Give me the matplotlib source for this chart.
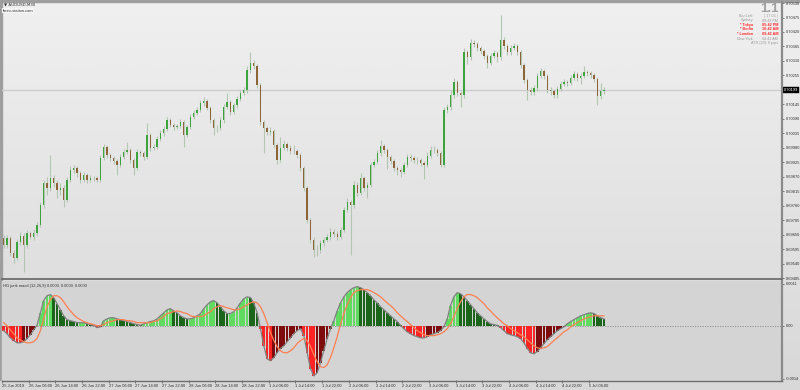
import numpy as np
import matplotlib
matplotlib.use("Agg")
import matplotlib.pyplot as plt
from matplotlib.colors import LinearSegmentedColormap
from matplotlib.patches import Rectangle
from matplotlib.lines import Line2D

# ---------------- data (hourly candles) ----------------
opens = [0.69637,0.69610,0.69637,0.69580,0.69561,0.69622,0.69645,0.69610,0.69656,0.69641,
         0.69656,0.69686,0.69762,0.69846,0.69827,0.69865,0.69846,0.69819,0.69827,0.69781,
         0.69857,0.69895,0.69903,0.69884,0.69857,0.69876,0.69857,0.69865,0.69865,0.69857,
         0.69941,0.69983,0.69952,0.69941,0.69930,0.69914,0.69945,0.69964,0.69971,0.69933,
         0.69903,0.69964,0.69960,0.69945,0.70028,0.69979,0.69983,0.70013,0.70036,0.70051,
         0.70085,0.70066,0.70059,0.70063,0.70078,0.70028,0.70059,0.70097,0.70112,0.70123,
         0.70150,0.70158,0.70131,0.70085,0.70055,0.70055,0.70085,0.70135,0.70154,0.70116,
         0.70142,0.70165,0.70188,0.70199,0.70275,0.70302,0.70291,0.70218,0.70078,0.70055,
         0.70040,0.70044,0.69990,0.69933,0.69979,0.69994,0.69979,0.69968,0.69968,0.69952,
         0.69903,0.69827,0.69705,0.69629,0.69591,0.69591,0.69618,0.69629,0.69641,0.69660,
         0.69652,0.69641,0.69667,0.69743,0.69774,0.69762,0.69838,0.69808,0.69865,0.69827,
         0.69838,0.69914,0.69926,0.69960,0.69987,0.69971,0.69945,0.69930,0.69903,0.69895,
         0.69888,0.69914,0.69945,0.69941,0.69933,0.69933,0.69922,0.69914,0.69949,0.69971,
         0.69971,0.69960,0.69914,0.70123,0.70135,0.70180,0.70230,0.70188,0.70180,0.70344,
         0.70325,0.70378,0.70374,0.70359,0.70348,0.70329,0.70302,0.70329,0.70340,0.70325,
         0.70389,0.70367,0.70344,0.70359,0.70367,0.70344,0.70294,0.70237,0.70199,0.70192,
         0.70206,0.70253,0.70272,0.70253,0.70199,0.70196,0.70180,0.70203,0.70222,0.70230,
         0.70226,0.70245,0.70260,0.70245,0.70253,0.70268,0.70264,0.70256,0.70241,0.70177,
         0.70196]
closes = [0.69610,0.69637,0.69580,0.69561,0.69622,0.69645,0.69610,0.69656,0.69641,0.69656,
          0.69686,0.69762,0.69846,0.69827,0.69865,0.69846,0.69819,0.69827,0.69781,0.69857,
          0.69895,0.69903,0.69884,0.69857,0.69876,0.69857,0.69865,0.69865,0.69857,0.69941,
          0.69983,0.69952,0.69941,0.69930,0.69914,0.69945,0.69964,0.69971,0.69933,0.69903,
          0.69964,0.69960,0.69945,0.70028,0.69979,0.69983,0.70013,0.70036,0.70051,0.70085,
          0.70066,0.70059,0.70063,0.70078,0.70028,0.70059,0.70097,0.70112,0.70123,0.70150,
          0.70158,0.70131,0.70085,0.70055,0.70055,0.70085,0.70135,0.70154,0.70116,0.70142,
          0.70165,0.70188,0.70199,0.70275,0.70302,0.70291,0.70218,0.70078,0.70055,0.70040,
          0.70044,0.69990,0.69933,0.69979,0.69994,0.69979,0.69968,0.69968,0.69952,0.69903,
          0.69827,0.69705,0.69629,0.69591,0.69591,0.69618,0.69629,0.69641,0.69660,0.69652,
          0.69641,0.69667,0.69743,0.69774,0.69762,0.69838,0.69808,0.69865,0.69827,0.69838,
          0.69914,0.69926,0.69960,0.69987,0.69971,0.69945,0.69930,0.69903,0.69895,0.69888,
          0.69914,0.69945,0.69941,0.69933,0.69933,0.69922,0.69914,0.69949,0.69971,0.69971,
          0.69960,0.69914,0.70123,0.70135,0.70180,0.70230,0.70188,0.70180,0.70344,0.70325,
          0.70378,0.70374,0.70359,0.70348,0.70329,0.70302,0.70329,0.70340,0.70325,0.70389,
          0.70367,0.70344,0.70359,0.70367,0.70344,0.70294,0.70237,0.70199,0.70192,0.70206,
          0.70253,0.70272,0.70253,0.70199,0.70196,0.70180,0.70203,0.70222,0.70230,0.70226,
          0.70245,0.70260,0.70245,0.70253,0.70268,0.70264,0.70256,0.70241,0.70177,0.70196,
          0.70199]
highs = [0.69650,0.69647,0.69645,0.69590,0.69632,0.69660,0.69655,0.69668,0.69665,0.69670,
         0.69698,0.69772,0.69858,0.69870,0.69952,0.69875,0.69856,0.69845,0.69837,0.69867,
         0.69910,0.69915,0.69912,0.69892,0.69888,0.69884,0.69878,0.69874,0.69873,0.69952,
         0.69996,0.69992,0.69960,0.69950,0.69938,0.69955,0.69975,0.70000,0.69980,0.69940,
         0.69975,0.69972,0.69968,0.70074,0.70036,0.69995,0.70024,0.70046,0.70062,0.70098,
         0.70094,0.70075,0.70072,0.70090,0.70086,0.70068,0.70108,0.70124,0.70135,0.70162,
         0.70172,0.70166,0.70140,0.70092,0.70066,0.70096,0.70148,0.70188,0.70162,0.70152,
         0.70176,0.70200,0.70212,0.70290,0.70344,0.70315,0.70300,0.70226,0.70086,0.70064,
         0.70058,0.70052,0.69998,0.70020,0.70010,0.70002,0.69990,0.69990,0.69976,0.69960,
         0.69912,0.69835,0.69712,0.69640,0.69610,0.69630,0.69642,0.69654,0.69675,0.69670,
         0.69662,0.69680,0.69755,0.69788,0.69782,0.69852,0.69848,0.69885,0.69872,0.69848,
         0.69925,0.69938,0.69972,0.70010,0.69995,0.69978,0.69952,0.69938,0.69912,0.69902,
         0.69925,0.69958,0.69955,0.69950,0.69945,0.69940,0.69930,0.69962,0.69985,0.69985,
         0.69978,0.69968,0.70135,0.70145,0.70198,0.70245,0.70238,0.70196,0.70360,0.70352,
         0.70392,0.70390,0.70382,0.70366,0.70356,0.70338,0.70340,0.70352,0.70348,0.70484,
         0.70400,0.70375,0.70370,0.70380,0.70375,0.70352,0.70302,0.70245,0.70210,0.70218,
         0.70265,0.70284,0.70280,0.70260,0.70210,0.70204,0.70214,0.70232,0.70240,0.70238,
         0.70256,0.70272,0.70268,0.70264,0.70290,0.70276,0.70272,0.70264,0.70248,0.70225,
         0.70212]
lows = [0.69600,0.69600,0.69570,0.69542,0.69553,0.69612,0.69508,0.69600,0.69632,0.69630,
        0.69646,0.69678,0.69752,0.69800,0.69815,0.69830,0.69790,0.69800,0.69755,0.69772,
        0.69848,0.69885,0.69870,0.69845,0.69848,0.69846,0.69848,0.69855,0.69848,0.69850,
        0.69932,0.69940,0.69930,0.69920,0.69876,0.69905,0.69936,0.69955,0.69922,0.69876,
        0.69895,0.69950,0.69935,0.69938,0.69968,0.69970,0.69975,0.70005,0.70026,0.70042,
        0.70058,0.70048,0.70050,0.70055,0.69982,0.70020,0.70050,0.70088,0.70104,0.70115,
        0.70140,0.70122,0.70075,0.70028,0.70040,0.70046,0.70076,0.70126,0.70105,0.70108,
        0.70133,0.70156,0.70180,0.70190,0.70265,0.70280,0.70208,0.70066,0.69960,0.70030,
        0.70030,0.69980,0.69920,0.69925,0.69970,0.69968,0.69958,0.69958,0.69940,0.69892,
        0.69815,0.69695,0.69618,0.69565,0.69570,0.69580,0.69608,0.69620,0.69630,0.69640,
        0.69630,0.69632,0.69658,0.69734,0.69572,0.69752,0.69796,0.69800,0.69815,0.69790,
        0.69830,0.69905,0.69918,0.69950,0.69960,0.69900,0.69918,0.69892,0.69875,0.69870,
        0.69880,0.69905,0.69930,0.69922,0.69920,0.69910,0.69860,0.69905,0.69940,0.69960,
        0.69950,0.69905,0.69905,0.70112,0.70125,0.70170,0.70176,0.70135,0.70170,0.70300,
        0.70315,0.70362,0.70348,0.70338,0.70318,0.70285,0.70294,0.70320,0.70305,0.70315,
        0.70355,0.70332,0.70334,0.70350,0.70334,0.70284,0.70226,0.70161,0.70180,0.70180,
        0.70196,0.70244,0.70240,0.70188,0.70182,0.70168,0.70170,0.70194,0.70214,0.70216,
        0.70218,0.70236,0.70234,0.70222,0.70244,0.70254,0.70246,0.70230,0.70142,0.70165,
        0.70186]

macd_hist = [-0.00013,-0.00021,-0.00032,-0.00039,-0.00045,-0.00045,-0.00042,-0.00034,-0.00024,-0.00011,
             0.00001,0.00034,0.00066,0.00079,0.00082,0.00074,0.00058,0.00042,0.00026,0.00016,
             0.00013,0.00011,0.00008,0.00008,0.00008,0.00005,0.00003,0.00001,-0.00005,-0.00003,
             0.00013,0.00018,0.00021,0.00021,0.00018,0.00016,0.00013,0.00011,0.00008,0.00005,
             0.00003,0.00001,0.00005,0.00008,0.00011,0.00013,0.00018,0.00026,0.00034,0.00042,
             0.00045,0.00039,0.00034,0.00026,0.00021,0.00018,0.00018,0.00021,0.00026,0.00032,
             0.00045,0.00055,0.00063,0.00066,0.00060,0.00050,0.00039,0.00032,0.00032,0.00037,
             0.00047,0.00060,0.00071,0.00076,0.00074,0.00060,0.00034,-0.00008,-0.00053,-0.00087,
             -0.00092,-0.00084,-0.00071,-0.00060,-0.00053,-0.00042,-0.00032,-0.00021,-0.00013,-0.00008,
             -0.00026,-0.00071,-0.00113,-0.00132,-0.00124,-0.00097,-0.00066,-0.00034,-0.00008,0.00013,
             0.00039,0.00060,0.00076,0.00087,0.00095,0.00100,0.00103,0.00100,0.00095,0.00087,
             0.00079,0.00068,0.00060,0.00050,0.00042,0.00034,0.00026,0.00018,0.00011,0.00001,
             -0.00008,-0.00016,-0.00021,-0.00026,-0.00029,-0.00032,-0.00032,-0.00029,-0.00024,-0.00021,
             -0.00018,-0.00013,-0.00003,0.00018,0.00053,0.00076,0.00087,0.00084,0.00076,0.00066,
             0.00055,0.00045,0.00034,0.00026,0.00018,0.00011,0.00005,0.00003,0.00001,-0.00005,
             -0.00013,-0.00021,-0.00024,-0.00026,-0.00029,-0.00034,-0.00045,-0.00060,-0.00071,-0.00074,
             -0.00068,-0.00058,-0.00047,-0.00037,-0.00029,-0.00021,-0.00013,-0.00008,-0.00003,0.00005,
             0.00011,0.00016,0.00021,0.00026,0.00029,0.00032,0.00034,0.00032,0.00026,0.00021,
             0.00018]
macd_signal = [0.00008,0.00000,-0.00011,-0.00021,-0.00032,-0.00037,-0.00042,-0.00045,-0.00045,-0.00042,
               -0.00034,-0.00013,0.00018,0.00050,0.00068,0.00079,0.00079,0.00074,0.00063,0.00050,
               0.00039,0.00029,0.00021,0.00016,0.00011,0.00008,0.00005,0.00003,0.00000,0.00000,
               0.00003,0.00008,0.00011,0.00013,0.00016,0.00016,0.00016,0.00013,0.00013,0.00011,
               0.00008,0.00008,0.00008,0.00008,0.00008,0.00011,0.00013,0.00018,0.00024,0.00032,
               0.00034,0.00037,0.00039,0.00037,0.00034,0.00032,0.00026,0.00024,0.00024,0.00024,
               0.00026,0.00032,0.00037,0.00045,0.00050,0.00053,0.00050,0.00047,0.00045,0.00042,
               0.00042,0.00045,0.00050,0.00055,0.00060,0.00063,0.00060,0.00050,0.00032,0.00008,
               -0.00018,-0.00039,-0.00055,-0.00066,-0.00071,-0.00071,-0.00066,-0.00058,-0.00047,-0.00039,
               -0.00034,-0.00039,-0.00055,-0.00076,-0.00095,-0.00108,-0.00110,-0.00103,-0.00084,-0.00058,
               -0.00029,0.00003,0.00032,0.00055,0.00074,0.00087,0.00092,0.00095,0.00095,0.00095,
               0.00092,0.00087,0.00082,0.00076,0.00068,0.00060,0.00053,0.00045,0.00034,0.00026,
               0.00018,0.00011,0.00003,-0.00005,-0.00013,-0.00018,-0.00024,-0.00026,-0.00026,-0.00026,
               -0.00024,-0.00021,-0.00016,-0.00008,0.00005,0.00024,0.00045,0.00063,0.00076,0.00082,
               0.00082,0.00079,0.00074,0.00066,0.00058,0.00047,0.00039,0.00029,0.00021,0.00013,
               0.00005,0.00000,-0.00008,-0.00013,-0.00018,-0.00024,-0.00029,-0.00037,-0.00045,-0.00053,
               -0.00058,-0.00060,-0.00058,-0.00055,-0.00047,-0.00039,-0.00032,-0.00024,-0.00016,-0.00011,
               -0.00003,0.00003,0.00008,0.00013,0.00018,0.00021,0.00024,0.00026,0.00026,0.00026,
               0.00026]

time_labels = ["25 Jun 2019", "26 Jun 06:00", "26 Jun 14:00", "26 Jun 22:00", "27 Jun 06:00",
               "27 Jun 14:00", "27 Jun 22:00", "28 Jun 06:00", "28 Jun 14:00", "28 Jun 22:00",
               "1 Jul 06:00", "1 Jul 14:00", "1 Jul 22:00", "2 Jul 06:00", "2 Jul 14:00",
               "2 Jul 22:00", "3 Jul 06:00", "3 Jul 14:00", "3 Jul 22:00", "4 Jul 06:00",
               "4 Jul 14:00", "4 Jul 22:00", "5 Jul 06:00"]
bars_per_label = 8
price_ticks = [0.69485, 0.69540, 0.69595, 0.69650, 0.69705, 0.69760, 0.69815, 0.69870,
               0.69925, 0.69980, 0.70035, 0.70090, 0.70145, 0.70255, 0.70310, 0.70365,
               0.70420, 0.70475, 0.70530]
current_price = 0.70199
ind_ticks = [0.0011, 0.0, -0.0014]
ind_tick_labels = ["0.0011", "0.00", "-0.0014"]
info_left = ["Bar Left:", "Sydney", "* Tokyo", "* Berlin", "* London", "New York", ""]
info_right = ["( 17:05 )", "08:42 PM", "05:42 PM", "10:42 AM", "09:42 AM", "04:42 AM", "ATR (20): 8 pips"]
info_red = [False, False, True, True, True, False, False]

# ---------------- figure ----------------
W, H = 800, 390
FS = 2.9
FONT = "Liberation Sans"
fig = plt.figure(figsize=(8, 3.9), dpi=100)

def fx(px):
    return px / W

def fy(py):
    return 1 - py / H

# background
bg = fig.add_axes([0, 0, 1, 1], zorder=-10)
bg.set_axis_off()
grad = np.linspace(0, 1, 256).reshape(-1, 1)
cmap = LinearSegmentedColormap.from_list("g", ["#f0f0f0", "#d8d8d8"])
bg.imshow(grad, aspect="auto", cmap=cmap, extent=[0, 1, 0, 1], transform=bg.transAxes)
bg.set_xlim(0, 1); bg.set_ylim(0, 1)
bg.add_patch(Rectangle((0, fy(2)), 1, 2 / H, color="#9e9e9e", transform=bg.transAxes))
bg.add_patch(Rectangle((0, 0), 2 / W, 1, color="#9e9e9e", transform=bg.transAxes))
bg.add_patch(Rectangle((fx(2), fy(381)), 779 / W, 100 / H, color="#d4d4d4", transform=bg.transAxes))
bg.add_patch(Rectangle((0, 0), 1, 9 / H, color="#d8d8d8", transform=bg.transAxes))

n = len(closes)
x = np.arange(n)
px_per_bar = 3.335
xlim = (-0.5, -0.5 + 779 / px_per_bar)

o = np.array(opens); c = np.array(closes)
hi = np.array(highs); lo = np.array(lows)

# main price panel
ax = fig.add_axes([fx(2), fy(278), 779 / W, 276 / H])
ax.set_facecolor("none")
ax.set_xlim(*xlim)
ax.set_ylim(0.69485, 0.70534)
ax.axhline(current_price, color="#cdcdcd", lw=1.0, zorder=1)
ax.vlines(x, lo, hi, color="#b2c6b2", lw=0.8, zorder=2)
bull = c >= o
body_col = np.where(bull, "#3da33d", "#8d6436")
ax.bar(x, np.maximum(np.abs(c - o), 0.000015), bottom=np.minimum(o, c), width=0.4,
       color=body_col, linewidth=0, zorder=3)
for s in ["left", "top", "bottom", "right"]:
    ax.spines[s].set_visible(False)
ax.set_xticks([])
ax.yaxis.tick_right()
ax.set_yticks(price_ticks)
ax.set_yticklabels([f"{v:.5f}" for v in price_ticks], fontsize=FS, family=FONT, color="#303030")
ax.tick_params(axis="y", length=2, width=0.5, pad=1.2, colors="#505050", labelcolor="#303030")
ax.text(1.0 + 3 / 779, current_price, f"{current_price:.5f}", transform=ax.get_yaxis_transform(),
        fontsize=FS, family=FONT, color="white", va="center", ha="left", clip_on=False,
        bbox=dict(boxstyle="square,pad=0.25", fc="black", ec="black", lw=0.3), zorder=10)

# indicator panel
axi = fig.add_axes([fx(2), fy(380), 779 / W, 99 / H])
axi.set_facecolor("#d4d4d4")
axi.set_xlim(*xlim)
axi.set_ylim(-0.001428, 0.001176)
hv = np.array(macd_hist)
cols = []
for i, v in enumerate(hv):
    prev = hv[i - 1] if i > 0 else v
    if v >= 0:
        cols.append("#5fdc5f" if v >= prev else "#1c661c")
    else:
        cols.append("#ff2424" if v <= prev else "#7e0c0c")
axi.axhline(0, color="#8c8c8c", lw=0.6, ls=(0, (1.5, 1.5)), zorder=1)
axi.bar(x, hv, width=0.8, color=cols, linewidth=0, zorder=2)
axi.plot(x, hv, color="#808080", lw=0.9, zorder=3)
axi.plot(x, macd_signal, color="#ff7f50", lw=0.9, zorder=4)
for s in ["left", "top", "bottom", "right"]:
    axi.spines[s].set_visible(False)
axi.yaxis.tick_right()
axi.set_yticks(ind_ticks)
axi.set_yticklabels(ind_tick_labels, fontsize=FS, family=FONT, color="#303030")
axi.tick_params(axis="y", length=2, width=0.5, pad=1.2, colors="#505050", labelcolor="#303030")
tick_pos = [k * bars_per_label - 0.5 for k in range(len(time_labels))]
axi.set_xticks(tick_pos)
axi.set_xticklabels(time_labels, fontsize=FS, family=FONT, color="#303030", ha="left")
axi.tick_params(axis="x", length=2, width=0.5, pad=1.0, colors="#505050", labelcolor="#303030")
axi.text(1 / 779, 0.965, "HG junk macd (12,26,9) 0.0000, 0.0000, 0.0000", transform=axi.transAxes,
         fontsize=FS, family=FONT, color="#303030", ha="left", va="top")

# frame lines
fig.add_artist(Line2D([fx(781.5), fx(781.5)], [fy(2), fy(380.5)], color="#8a8a8a", lw=1.6))
fig.add_artist(Line2D([fx(2), fx(781.5)], [fy(279.3), fy(279.3)], color="#6e6e6e", lw=1.3))
fig.add_artist(Line2D([fx(2), fx(781.5)], [fy(380.5), fy(380.5)], color="#6e6e6e", lw=1.0))

# top-left labels
fig.text(fx(4), fy(5), "\u25BC AUDUSD,M30", fontsize=FS, family=["DejaVu Sans"], color="#303030",
         va="center", ha="left")
fig.text(fx(2.5), fy(10.5), "forex-station.com", fontsize=FS, family=FONT, color="#303030",
         va="center", ha="left",
         bbox=dict(boxstyle="square,pad=0.15", fc="#f6f6f6", ec="none"))

# top-right info block
fig.text(fx(778.5), fy(8.5), "1.1", fontsize=9.5, family=FONT, color="#a0a0a0",
         va="center", ha="right", fontweight="bold")
row_y = [16, 20.5, 25, 29.5, 34, 38.5, 43]
for yy, l, r, red in zip(row_y, info_left, info_right, info_red):
    colr = "#ff2a2a" if red else "#9a9a9a"
    if l:
        fig.text(fx(753), fy(yy), l, fontsize=2.7, family=FONT, color=colr, va="center", ha="right",
                 fontweight="bold" if red else "normal")
    fig.text(fx(778), fy(yy), r, fontsize=2.7, family=FONT, color=colr, va="center", ha="right",
             fontweight="bold" if red else "normal")

fig.savefig("out.png", dpi=100)
